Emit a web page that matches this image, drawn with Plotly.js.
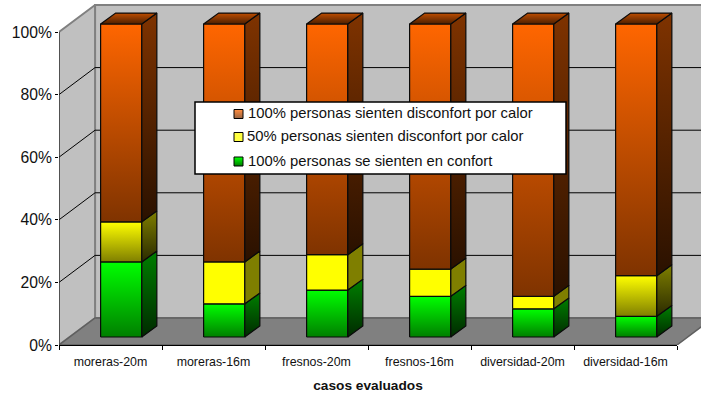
<!DOCTYPE html>
<html>
<head>
<meta charset="utf-8">
<script src="https://cdn.plot.ly/plotly-3.0.1.min.js"></script>
<style>html,body{margin:0;padding:0;background:#fff}#chart{width:701px;height:393px}</style>
</head>
<body>
<div id="chart"></div>
<script>
// Survey results per evaluated case (percent of people)
const categories = ['moreras-20m', 'moreras-16m', 'fresnos-20m', 'fresnos-16m', 'diversidad-20m', 'diversidad-16m'];
const comfort   = [24.0, 10.6, 15.0, 13.0, 9.0, 6.6];
const halfHeat  = [12.8, 13.4, 11.3, 8.7, 4.0, 13.0];
const fullHeat  = [63.2, 76.0, 73.7, 78.3, 87.0, 80.4];
const seriesNames = [
  '100% personas sienten disconfort por calor',
  '50% personas sienten disconfort por calor',
  '100% personas se sienten en confort'
];
const yTicks = [0, 20, 40, 60, 80, 100];
const yTickLabels = ['0%', '20%', '40%', '60%', '80%', '100%'];
// Yellow segments that fade to dark; the others stay flat
const halfHeatFades = [true, false, false, false, false, true];

// Oblique projection, in axis units
const WALL_DX = 0.35, WALL_DY = 8.63;
const BAR_DX = 0.104, BAR_DY = 2.55;
const SIDE_DX = 0.146, SIDE_DY = 3.5;
const BAR_W = 0.4;

const W = 701, H = 393, ML = 59, MB = 48, PLOT_H = H - MB;
const X_MAX = (W - ML) / 103;
const Y_MAX = PLOT_H / 3.13;
const px = v => (v - ML) / (W - ML);
const py = v => (PLOT_H - v) / PLOT_H;

const traces = [];

function poly(xs, ys, fill, line, width) {
  const t = {
    type: 'scatter', mode: 'lines', x: xs.concat(xs[0]), y: ys.concat(ys[0]),
    fill: 'toself', line: {color: line, width: width}, hoverinfo: 'skip', showlegend: false
  };
  if (Array.isArray(fill)) {
    t.fillgradient = {type: 'vertical', colorscale: [[0, fill[0]], [1, fill[1]]]};
  } else {
    t.fillcolor = fill;
  }
  traces.push(t);
}
function path(xs, ys, color, width) {
  traces.push({type: 'scatter', mode: 'lines', x: xs, y: ys, line: {color: color, width: width},
    hoverinfo: 'skip', showlegend: false});
}

const N = categories.length;
// Back wall, side wall and floor
poly([WALL_DX, N + WALL_DX, N + WALL_DX, WALL_DX], [WALL_DY, WALL_DY, 100 + WALL_DY, 100 + WALL_DY], '#c0c0c0', '#808080', 2);
poly([0, WALL_DX, WALL_DX, 0], [0, WALL_DY, 100 + WALL_DY, 100], '#c0c0c0', '#808080', 2);
poly([0, N, N + WALL_DX, WALL_DX], [0, 0, WALL_DY, WALL_DY], '#808080', '#5f5f5f', 1.5);

// Gridlines fold from the side wall onto the back wall
yTicks.filter(v => v > 0 && v < 100).forEach(v => {
  path([0, WALL_DX, N + WALL_DX], [v, v + WALL_DY, v + WALL_DY], '#000', 1);
});
path([0, 0], [0, 100], '#222', 1);

// Bars: one front and one side face per segment, then the cap
categories.forEach((c, i) => {
  const x0 = i + 0.5 - BAR_W / 2 + BAR_DX, x1 = x0 + BAR_W;
  const segs = [
    {v: comfort[i],  top: '#00ff00', low: '#007f00', sTop: '#007f00', sLow: '#002a00'},
    {v: halfHeat[i], top: '#ffff00', low: halfHeatFades[i] ? '#7f7f00' : '#ffff00',
                     sTop: '#7f7f00', sLow: halfHeatFades[i] ? '#2a2a00' : '#7f7f00'},
    {v: fullHeat[i], top: '#ff6600', low: '#7f3300', sTop: '#7f3300', sLow: '#2a1100'}
  ];
  let base = BAR_DY;
  segs.forEach(s => {
    const t = base + s.v;
    poly([x0, x1, x1, x0], [base, base, t, t], [s.low, s.top], '#0a0a0a', 1.2);
    poly([x1, x1 + SIDE_DX, x1 + SIDE_DX, x1], [base, base + SIDE_DY, t + SIDE_DY, t], [s.sLow, s.sTop], '#0a0a0a', 1.2);
    base = t;
  });
  poly([x0, x1, x1 + SIDE_DX, x0 + SIDE_DX], [base, base, base + SIDE_DY, base + SIDE_DY], ['#4d1f00', '#bf4d00'], '#0a0a0a', 1.2);
});

// Carries the category axis
traces.push({type: 'scatter', mode: 'none', x: categories, y: categories.map(() => null),
  xaxis: 'x2', yaxis: 'y', hoverinfo: 'skip', showlegend: false});

// Key panel
const font = 'Liberation Sans, Arial, sans-serif';
const keyRows = [113, 136, 160.5];
const keyColors = [['#ff6600', '#7f3300'], ['#ffff00', '#ffff00'], ['#00ff00', '#007f00']];
const shapes = [{
  type: 'rect', layer: 'above', xref: 'paper', yref: 'paper',
  x0: px(195), x1: px(566), y0: py(174), y1: py(102),
  fillcolor: '#fff', line: {color: '#000', width: 1.5}
}];
const annotations = [];
keyRows.forEach((ry, r) => {
  const steps = 9, cy = ry + 1;
  for (let k = 0; k < steps; k++) {
    const f = k / (steps - 1);
    const a = parseInt(keyColors[r][0].slice(1), 16), b = parseInt(keyColors[r][1].slice(1), 16);
    const mix = sh => Math.round(((a >> sh) & 255) * (1 - f) + ((b >> sh) & 255) * f);
    shapes.push({
      type: 'rect', layer: 'above', xref: 'paper', yref: 'paper',
      x0: px(234), x1: px(243), y0: py(cy - 4.5 + k + 1), y1: py(cy - 4.5 + k),
      fillcolor: `rgb(${mix(16)},${mix(8)},${mix(0)})`, line: {width: 0}
    });
  }
  shapes.push({
    type: 'rect', layer: 'above', xref: 'paper', yref: 'paper',
    x0: px(234), x1: px(243), y0: py(cy + 4.5), y1: py(cy - 4.5),
    fillcolor: 'rgba(0,0,0,0)', line: {color: '#000', width: 1}
  });
  annotations.push({
    xref: 'paper', yref: 'paper', x: px(r === 1 ? 245 : 245.5), y: py(ry), xanchor: 'left', yanchor: 'middle',
    text: seriesNames[r], showarrow: false, font: {family: font, size: 14.8, color: '#111'}
  });
});

const layout = {
  width: W, height: H, autosize: false, showlegend: false,
  margin: {l: ML, r: 0, t: 0, b: MB, pad: 0},
  paper_bgcolor: '#fff', plot_bgcolor: 'rgba(0,0,0,0)',
  hovermode: false,
  // Drawing axis runs past the chart's right edge so the walls bleed off
  xaxis: {range: [0, X_MAX], domain: [0, 1], visible: false, fixedrange: true},
  // Category axis, ticks on the boundaries
  xaxis2: {
    type: 'category', categoryorder: 'array', categoryarray: categories,
    domain: [0, 618 / 642], anchor: 'y', range: [-0.5, N - 0.5],
    tickson: 'boundaries', ticks: 'outside', ticklen: 4, tickcolor: '#000', tickwidth: 1,
    ticklabelstandoff: 5,
    showline: true, linecolor: '#000', linewidth: 1, showgrid: false, zeroline: false, fixedrange: true,
    tickfont: {family: font, size: 12.4, color: '#111'},
    title: {text: '<b>casos evaluados</b>', font: {family: font, size: 13.7, color: '#111'}, standoff: 16}
  },
  yaxis: {
    range: [0, Y_MAX], anchor: 'x', tickmode: 'array', tickvals: yTicks, ticktext: yTickLabels,
    ticks: 'outside', ticklen: 3, tickcolor: '#000', tickwidth: 1,
    showline: false, showgrid: false, zeroline: false, fixedrange: true,
    tickfont: {family: font, size: 15.7, color: '#111'}
  },
  shapes: shapes,
  annotations: annotations
};

Plotly.newPlot('chart', traces, layout, {staticPlot: true, displayModeBar: false});
</script>
</body>
</html>
